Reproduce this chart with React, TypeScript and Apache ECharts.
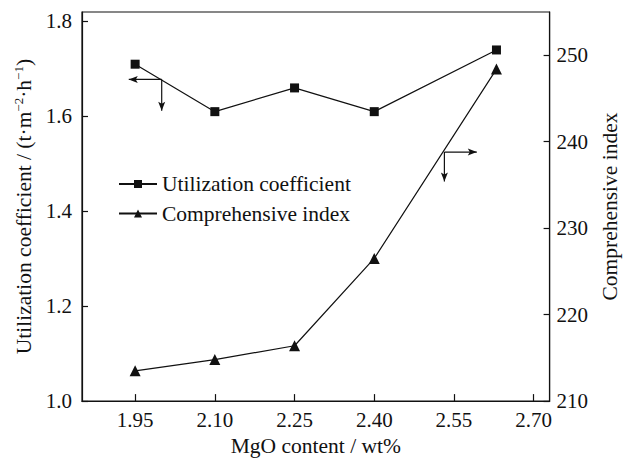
import React, { useEffect, useRef } from "react";
import * as echarts from "echarts";

const xValues = [1.95, 2.1, 2.25, 2.4, 2.63];
const utilization = [1.71, 1.61, 1.66, 1.61, 1.74];
const compIndex = [213.5, 214.8, 216.4, 226.5, 248.4];
const xTicks = [1.95, 2.1, 2.25, 2.4, 2.55, 2.7];
const leftTicks = [1.0, 1.2, 1.4, 1.6, 1.8];
const rightTicks = [210, 220, 230, 240, 250];

// annotation arrows (data coords): corner, horizontal end, vertical end
const leftArrow = { corner: [2.0, 1.678], hEnd: 1.938, vEnd: 1.612 };
const rightArrow = { corner: [2.532, 238.8], hEnd: 2.593, vEnd: 235.4 };

const FONT = "Liberation Serif";
const INK = "#111";
const TICK_FS = 21;
const NAME_FS = 21.5;

export default function App() {
  const ref = useRef<HTMLDivElement>(null);
  useEffect(() => {
    if (!ref.current) return;
    document.body.style.margin = "0";
    const chart = echarts.init(ref.current, undefined, { renderer: "svg" });
    const option: any = {
      animation: false,
      backgroundColor: "#fff",
      textStyle: { fontFamily: FONT, color: INK },
      grid: { left: 82, right: 74, top: 12, bottom: 56, show: true, borderColor: INK, borderWidth: 1.2 },
      legend: {
        orient: "vertical",
        left: 113,
        top: 168,
        itemWidth: 38,
        itemHeight: 10,
        itemGap: 7.5,
        textStyle: { fontFamily: FONT, fontSize: NAME_FS, color: INK },
        data: ["Utilization coefficient", "Comprehensive index"],
      },
      xAxis: {
        type: "value",
        min: 1.85,
        max: 2.73,
        name: "MgO content / wt%",
        nameLocation: "middle",
        nameGap: 33,
        nameTextStyle: { fontFamily: FONT, fontSize: NAME_FS, color: INK },
        axisLine: { show: true, lineStyle: { color: INK, width: 1.2 } },
        axisTick: { show: true, inside: true, length: 7, customValues: xTicks, lineStyle: { color: INK, width: 1.2 } },
        axisLabel: {
          customValues: xTicks,
          formatter: (v: number) => v.toFixed(2),
          fontFamily: FONT,
          fontSize: TICK_FS,
          color: INK,
          margin: 8,
        },
        splitLine: { show: false },
      },
      yAxis: [
        {
          type: "value",
          min: 1.0,
          max: 1.82,
          name: "{n|Utilization coefficient / (t·m}{s|−2}{n|·h}{s|−1}{n|)}",
          nameLocation: "middle",
          nameGap: 38,
          nameTextStyle: {
            fontFamily: FONT,
            fontSize: NAME_FS,
            color: INK,
            rich: {
              n: { fontFamily: FONT, fontSize: NAME_FS, color: INK, lineHeight: 24 },
              s: { fontFamily: FONT, fontSize: 13, color: INK, lineHeight: 13, verticalAlign: "top" },
            },
          },
          axisLine: { show: true, lineStyle: { color: INK, width: 1.2 } },
          axisTick: { show: true, inside: true, length: 6, customValues: leftTicks, lineStyle: { color: INK, width: 1.2 } },
          axisLabel: {
            customValues: leftTicks,
            formatter: (v: number) => v.toFixed(1),
            fontFamily: FONT,
            fontSize: TICK_FS,
            color: INK,
            margin: 10,
          },
          splitLine: { show: false },
        },
        {
          type: "value",
          min: 210,
          max: 255,
          position: "right",
          name: "Comprehensive index",
          nameLocation: "middle",
          nameGap: 42,
          nameRotate: 90,
          nameTextStyle: { fontFamily: FONT, fontSize: NAME_FS, color: INK },
          axisLine: { show: true, lineStyle: { color: INK, width: 1.2 } },
          axisTick: { show: true, inside: true, length: 6, customValues: rightTicks, lineStyle: { color: INK, width: 1.2 } },
          axisLabel: {
            customValues: rightTicks,
            formatter: (v: number) => String(v),
            fontFamily: FONT,
            fontSize: TICK_FS,
            color: INK,
            margin: 7,
          },
          splitLine: { show: false },
        },
      ],
      series: [
        {
          name: "Utilization coefficient",
          type: "line",
          yAxisIndex: 0,
          data: xValues.map((x, i) => [x, utilization[i]]),
          symbol: "rect",
          symbolSize: 9,
          itemStyle: { color: INK },
          lineStyle: { color: INK, width: 1.2 },
        },
        {
          name: "Comprehensive index",
          type: "line",
          yAxisIndex: 1,
          data: xValues.map((x, i) => [x, compIndex[i]]),
          symbol: "triangle",
          symbolSize: 11,
          itemStyle: { color: INK },
          lineStyle: { color: INK, width: 1.2 },
        },
      ],
    };
    chart.setOption(option);

    const arrowHead = (tip: number[], dir: "left" | "right" | "down") => {
      const L = 9, W = 3.5;
      let pts: number[][];
      if (dir === "left") pts = [tip, [tip[0] + L, tip[1] - W], [tip[0] + L - 2, tip[1]], [tip[0] + L, tip[1] + W]];
      else if (dir === "right") pts = [tip, [tip[0] - L, tip[1] - W], [tip[0] - L + 2, tip[1]], [tip[0] - L, tip[1] + W]];
      else pts = [tip, [tip[0] - W, tip[1] - L], [tip[0], tip[1] - L + 2], [tip[0] + W, tip[1] - L]];
      return { type: "polygon", shape: { points: pts }, style: { fill: INK } };
    };
    const buildArrow = (a: any, yAxisIndex: number, hDir: "left" | "right") => {
      const finder = { xAxisIndex: 0, yAxisIndex };
      const c = chart.convertToPixel(finder as any, a.corner) as number[];
      const h = chart.convertToPixel(finder as any, [a.hEnd, a.corner[1]]) as number[];
      const v = chart.convertToPixel(finder as any, [a.corner[0], a.vEnd]) as number[];
      return [
        { type: "line", shape: { x1: c[0], y1: c[1], x2: h[0], y2: h[1] }, style: { stroke: INK, lineWidth: 1.2 } },
        { type: "line", shape: { x1: c[0], y1: c[1], x2: v[0], y2: v[1] }, style: { stroke: INK, lineWidth: 1.2 } },
        arrowHead(h, hDir),
        arrowHead(v, "down"),
      ];
    };
    chart.setOption({
      graphic: [...buildArrow(leftArrow, 0, "left"), ...buildArrow(rightArrow, 1, "right")],
    });
    return () => chart.dispose();
  }, []);
  return <div ref={ref} style={{ width: 629, height: 462 }} />;
}
